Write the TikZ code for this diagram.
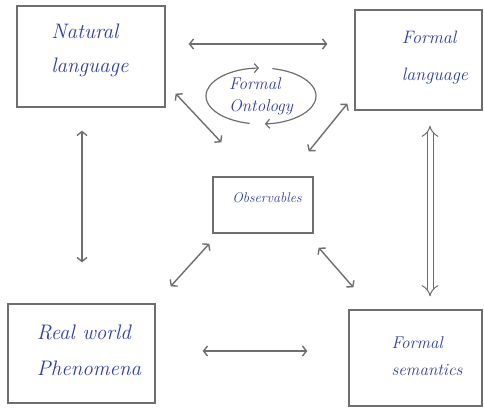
\documentclass[tikz,border=0pt]{standalone}
\usetikzlibrary{arrows.meta}

\definecolor{pencil}{RGB}{110,110,110}
\definecolor{ink}{RGB}{45,60,175}

\tikzset{
  box/.style={draw=pencil, line width=1.3pt, inner sep=0pt},
  hand/.style={text=ink, font=\itshape, align=left, inner sep=0pt},
  link/.style={draw=pencil, line width=1.4pt, <->, >={Straight Barb[length=4pt,width=10pt]}},
  twin/.style={draw=pencil, line width=1pt, double=white, double distance=5pt, {Implies}-{Implies}},
  ring/.style={draw=pencil, line width=1.2pt, ->, >={Straight Barb[length=4pt,width=9pt]}}
}

\begin{document}
\begin{tikzpicture}[x=1pt,y=-1pt]
    \useasboundingbox (0,0) rectangle (484,407);

    % boxes
    \node[box, minimum width=148, minimum height=101] (nl)  at (91,56.5)    {};
    \node[box, minimum width=127, minimum height=100] (fl)  at (418.5,60)   {};
    \node[box, minimum width=100, minimum height=56]  (obs) at (263,205)    {};
    \node[box, minimum width=147, minimum height=99]  (rw)  at (81.5,353.5) {};
    \node[box, minimum width=133, minimum height=96]  (fs)  at (415.5,358)  {};

    % hand written labels
    \node[hand, font=\itshape\fontsize{21}{34}\selectfont] (nltext)  at (90,50)   {Natural\\ language};
    \node[hand, font=\itshape\fontsize{18}{37}\selectfont] (fltext)  at (435,58)  {Formal\\ language};
    \node[hand, font=\itshape\fontsize{17}{22}\selectfont] (onto)    at (261,96)  {Formal\\ Ontology};
    \node[hand, font=\itshape\fontsize{14}{14}\selectfont] (obstext) at (267,198) {Observables};
    \node[hand, font=\itshape\fontsize{21}{36}\selectfont] (rwtext)  at (89,350)  {Real world\\ Phenomena};
    \node[hand, font=\itshape\fontsize{17}{27}\selectfont] (fstext)  at (427,356) {Formal\\ semantics};

    % loop round the ontology
    \draw[ring] ([shift={(102:55 and 28)}]onto.center) arc[start angle=102, end angle=268, x radius=55, y radius=28];
    \draw[ring] ([shift={(282:55 and 28)}]onto.center) arc[start angle=282, end angle=446, x radius=55, y radius=28];

    % connectors
    \draw[link] ([shift={(23,-12.5)}]nl.east)       -- ([shift={(-27,-16)}]fl.west);
    \draw[link] ([shift={(-9,23)}]nl.south)         -- ([shift={(0.5,-41)}]rw.north);
    \draw[link] ([shift={(10,-14)}]nl.south east)   -- ([shift={(9,-34)}]obs.north west);
    \draw[link] ([shift={(-7,-7)}]fl.south west)    -- ([shift={(-5,-25)}]obs.north east);
    \draw[twin] ([shift={(11.5,15)}]fl.south)       -- ([shift={(14.5,-13)}]fs.north);
    \draw[link] ([shift={(-3,10)}]obs.south west)   -- ([shift={(15,-17)}]rw.north east);
    \draw[link] ([shift={(5,14)}]obs.south east)    -- ([shift={(5,-22)}]fs.north west);
    \draw[link] ([shift={(47,-2.5)}]rw.east)        -- ([shift={(-41,-7)}]fs.west);
\end{tikzpicture}
\end{document}
